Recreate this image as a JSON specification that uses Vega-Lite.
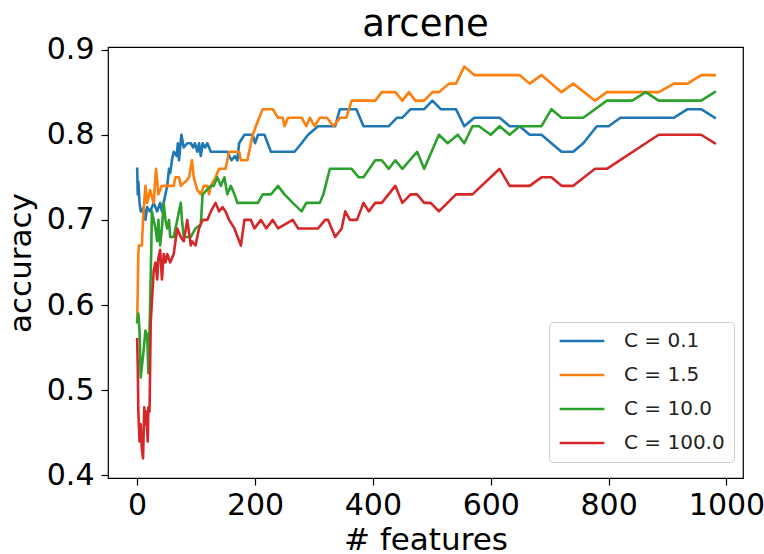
{
"$schema": "https://vega.github.io/schema/vega-lite/v6.json",
"width": 635, "height": 431,
"autosize": {"type": "none"},
"padding": {"left": 108, "top": 47, "right": 21, "bottom": 76},
"background": "white",
"title": {"text": "arcene", "fontSize": 37, "font": "DejaVu Sans", "fontWeight": "normal", "color": "black", "anchor": "middle", "offset": -9},
"config": {"view": {"stroke": "black", "strokeWidth": 1.2}, "font": "DejaVu Sans"},
"data": {"values": [
{"c":"C = 0.1","x":0,"y":0.76},{"c":"C = 0.1","x":1,"y":0.73},{"c":"C = 0.1","x":2,"y":0.745},{"c":"C = 0.1","x":4,"y":0.72},{"c":"C = 0.1","x":6,"y":0.71},{"c":"C = 0.1","x":8,"y":0.71},{"c":"C = 0.1","x":11,"y":0.715},{"c":"C = 0.1","x":14,"y":0.70},{"c":"C = 0.1","x":17,"y":0.715},{"c":"C = 0.1","x":22,"y":0.71},{"c":"C = 0.1","x":28,"y":0.72},{"c":"C = 0.1","x":34,"y":0.71},{"c":"C = 0.1","x":39,"y":0.72},{"c":"C = 0.1","x":42,"y":0.71},{"c":"C = 0.1","x":45,"y":0.72},{"c":"C = 0.1","x":51,"y":0.74},{"c":"C = 0.1","x":54,"y":0.76},{"c":"C = 0.1","x":56,"y":0.755},{"c":"C = 0.1","x":59,"y":0.77},{"c":"C = 0.1","x":62,"y":0.78},{"c":"C = 0.1","x":67,"y":0.775},{"c":"C = 0.1","x":69,"y":0.79},{"c":"C = 0.1","x":71,"y":0.77},{"c":"C = 0.1","x":75,"y":0.80},{"c":"C = 0.1","x":79,"y":0.785},{"c":"C = 0.1","x":85,"y":0.79},{"c":"C = 0.1","x":91,"y":0.79},{"c":"C = 0.1","x":95,"y":0.785},{"c":"C = 0.1","x":98,"y":0.79},{"c":"C = 0.1","x":102,"y":0.78},{"c":"C = 0.1","x":105,"y":0.79},{"c":"C = 0.1","x":108,"y":0.775},{"c":"C = 0.1","x":111,"y":0.79},{"c":"C = 0.1","x":115,"y":0.785},{"c":"C = 0.1","x":119,"y":0.79},{"c":"C = 0.1","x":125,"y":0.78},{"c":"C = 0.1","x":153,"y":0.78},{"c":"C = 0.1","x":160,"y":0.77},{"c":"C = 0.1","x":166,"y":0.775},{"c":"C = 0.1","x":170,"y":0.77},{"c":"C = 0.1","x":173,"y":0.79},{"c":"C = 0.1","x":182,"y":0.80},{"c":"C = 0.1","x":196,"y":0.80},{"c":"C = 0.1","x":200,"y":0.79},{"c":"C = 0.1","x":205,"y":0.80},{"c":"C = 0.1","x":216,"y":0.80},{"c":"C = 0.1","x":227,"y":0.78},{"c":"C = 0.1","x":267,"y":0.78},{"c":"C = 0.1","x":279,"y":0.79},{"c":"C = 0.1","x":290,"y":0.80},{"c":"C = 0.1","x":307,"y":0.81},{"c":"C = 0.1","x":336,"y":0.81},{"c":"C = 0.1","x":344,"y":0.83},{"c":"C = 0.1","x":372,"y":0.83},{"c":"C = 0.1","x":384,"y":0.81},{"c":"C = 0.1","x":427,"y":0.81},{"c":"C = 0.1","x":441,"y":0.82},{"c":"C = 0.1","x":450,"y":0.82},{"c":"C = 0.1","x":464,"y":0.83},{"c":"C = 0.1","x":487,"y":0.83},{"c":"C = 0.1","x":501,"y":0.84},{"c":"C = 0.1","x":515,"y":0.83},{"c":"C = 0.1","x":541,"y":0.83},{"c":"C = 0.1","x":555,"y":0.81},{"c":"C = 0.1","x":572,"y":0.82},{"c":"C = 0.1","x":615,"y":0.82},{"c":"C = 0.1","x":632,"y":0.81},{"c":"C = 0.1","x":649,"y":0.81},{"c":"C = 0.1","x":666,"y":0.80},{"c":"C = 0.1","x":686,"y":0.80},{"c":"C = 0.1","x":720,"y":0.78},{"c":"C = 0.1","x":740,"y":0.78},{"c":"C = 0.1","x":757,"y":0.79},{"c":"C = 0.1","x":780,"y":0.81},{"c":"C = 0.1","x":800,"y":0.81},{"c":"C = 0.1","x":820,"y":0.82},{"c":"C = 0.1","x":911,"y":0.82},{"c":"C = 0.1","x":934,"y":0.83},{"c":"C = 0.1","x":957,"y":0.83},{"c":"C = 0.1","x":980,"y":0.82},
{"c":"C = 1.5","x":0,"y":0.58},{"c":"C = 1.5","x":1,"y":0.62},{"c":"C = 1.5","x":2,"y":0.66},{"c":"C = 1.5","x":3,"y":0.67},{"c":"C = 1.5","x":8,"y":0.67},{"c":"C = 1.5","x":10,"y":0.70},{"c":"C = 1.5","x":12,"y":0.72},{"c":"C = 1.5","x":14,"y":0.74},{"c":"C = 1.5","x":17,"y":0.72},{"c":"C = 1.5","x":22,"y":0.735},{"c":"C = 1.5","x":28,"y":0.72},{"c":"C = 1.5","x":32,"y":0.76},{"c":"C = 1.5","x":36,"y":0.73},{"c":"C = 1.5","x":42,"y":0.74},{"c":"C = 1.5","x":62,"y":0.74},{"c":"C = 1.5","x":65,"y":0.75},{"c":"C = 1.5","x":71,"y":0.75},{"c":"C = 1.5","x":74,"y":0.74},{"c":"C = 1.5","x":82,"y":0.745},{"c":"C = 1.5","x":88,"y":0.75},{"c":"C = 1.5","x":93,"y":0.77},{"c":"C = 1.5","x":96,"y":0.75},{"c":"C = 1.5","x":102,"y":0.735},{"c":"C = 1.5","x":108,"y":0.73},{"c":"C = 1.5","x":113,"y":0.74},{"c":"C = 1.5","x":119,"y":0.74},{"c":"C = 1.5","x":122,"y":0.73},{"c":"C = 1.5","x":125,"y":0.74},{"c":"C = 1.5","x":133,"y":0.75},{"c":"C = 1.5","x":139,"y":0.76},{"c":"C = 1.5","x":150,"y":0.76},{"c":"C = 1.5","x":156,"y":0.78},{"c":"C = 1.5","x":173,"y":0.78},{"c":"C = 1.5","x":176,"y":0.77},{"c":"C = 1.5","x":187,"y":0.77},{"c":"C = 1.5","x":196,"y":0.80},{"c":"C = 1.5","x":207,"y":0.82},{"c":"C = 1.5","x":213,"y":0.83},{"c":"C = 1.5","x":230,"y":0.83},{"c":"C = 1.5","x":239,"y":0.82},{"c":"C = 1.5","x":247,"y":0.82},{"c":"C = 1.5","x":250,"y":0.81},{"c":"C = 1.5","x":256,"y":0.82},{"c":"C = 1.5","x":279,"y":0.82},{"c":"C = 1.5","x":287,"y":0.81},{"c":"C = 1.5","x":293,"y":0.82},{"c":"C = 1.5","x":301,"y":0.81},{"c":"C = 1.5","x":310,"y":0.82},{"c":"C = 1.5","x":322,"y":0.82},{"c":"C = 1.5","x":333,"y":0.81},{"c":"C = 1.5","x":344,"y":0.82},{"c":"C = 1.5","x":355,"y":0.82},{"c":"C = 1.5","x":364,"y":0.84},{"c":"C = 1.5","x":404,"y":0.84},{"c":"C = 1.5","x":415,"y":0.85},{"c":"C = 1.5","x":438,"y":0.85},{"c":"C = 1.5","x":450,"y":0.84},{"c":"C = 1.5","x":461,"y":0.85},{"c":"C = 1.5","x":472,"y":0.84},{"c":"C = 1.5","x":487,"y":0.84},{"c":"C = 1.5","x":501,"y":0.85},{"c":"C = 1.5","x":512,"y":0.85},{"c":"C = 1.5","x":529,"y":0.86},{"c":"C = 1.5","x":541,"y":0.86},{"c":"C = 1.5","x":555,"y":0.88},{"c":"C = 1.5","x":572,"y":0.87},{"c":"C = 1.5","x":649,"y":0.87},{"c":"C = 1.5","x":666,"y":0.86},{"c":"C = 1.5","x":686,"y":0.87},{"c":"C = 1.5","x":720,"y":0.85},{"c":"C = 1.5","x":740,"y":0.86},{"c":"C = 1.5","x":777,"y":0.84},{"c":"C = 1.5","x":797,"y":0.85},{"c":"C = 1.5","x":885,"y":0.85},{"c":"C = 1.5","x":911,"y":0.86},{"c":"C = 1.5","x":934,"y":0.86},{"c":"C = 1.5","x":957,"y":0.87},{"c":"C = 1.5","x":980,"y":0.87},
{"c":"C = 10.0","x":0,"y":0.58},{"c":"C = 10.0","x":2,"y":0.59},{"c":"C = 10.0","x":4,"y":0.57},{"c":"C = 10.0","x":6,"y":0.515},{"c":"C = 10.0","x":11,"y":0.547},{"c":"C = 10.0","x":14,"y":0.57},{"c":"C = 10.0","x":17,"y":0.565},{"c":"C = 10.0","x":19,"y":0.52},{"c":"C = 10.0","x":22,"y":0.60},{"c":"C = 10.0","x":24,"y":0.67},{"c":"C = 10.0","x":25,"y":0.71},{"c":"C = 10.0","x":28,"y":0.70},{"c":"C = 10.0","x":31,"y":0.69},{"c":"C = 10.0","x":34,"y":0.675},{"c":"C = 10.0","x":36,"y":0.70},{"c":"C = 10.0","x":39,"y":0.67},{"c":"C = 10.0","x":42,"y":0.69},{"c":"C = 10.0","x":45,"y":0.72},{"c":"C = 10.0","x":48,"y":0.70},{"c":"C = 10.0","x":51,"y":0.69},{"c":"C = 10.0","x":54,"y":0.70},{"c":"C = 10.0","x":56,"y":0.68},{"c":"C = 10.0","x":62,"y":0.68},{"c":"C = 10.0","x":68,"y":0.70},{"c":"C = 10.0","x":74,"y":0.72},{"c":"C = 10.0","x":76,"y":0.70},{"c":"C = 10.0","x":79,"y":0.68},{"c":"C = 10.0","x":91,"y":0.68},{"c":"C = 10.0","x":99,"y":0.69},{"c":"C = 10.0","x":108,"y":0.695},{"c":"C = 10.0","x":111,"y":0.73},{"c":"C = 10.0","x":125,"y":0.74},{"c":"C = 10.0","x":130,"y":0.74},{"c":"C = 10.0","x":136,"y":0.75},{"c":"C = 10.0","x":142,"y":0.74},{"c":"C = 10.0","x":148,"y":0.75},{"c":"C = 10.0","x":153,"y":0.73},{"c":"C = 10.0","x":159,"y":0.74},{"c":"C = 10.0","x":165,"y":0.73},{"c":"C = 10.0","x":170,"y":0.72},{"c":"C = 10.0","x":205,"y":0.72},{"c":"C = 10.0","x":213,"y":0.73},{"c":"C = 10.0","x":227,"y":0.73},{"c":"C = 10.0","x":239,"y":0.74},{"c":"C = 10.0","x":250,"y":0.73},{"c":"C = 10.0","x":264,"y":0.72},{"c":"C = 10.0","x":279,"y":0.71},{"c":"C = 10.0","x":287,"y":0.72},{"c":"C = 10.0","x":310,"y":0.72},{"c":"C = 10.0","x":316,"y":0.73},{"c":"C = 10.0","x":327,"y":0.76},{"c":"C = 10.0","x":364,"y":0.76},{"c":"C = 10.0","x":376,"y":0.75},{"c":"C = 10.0","x":384,"y":0.75},{"c":"C = 10.0","x":404,"y":0.77},{"c":"C = 10.0","x":415,"y":0.77},{"c":"C = 10.0","x":427,"y":0.76},{"c":"C = 10.0","x":438,"y":0.77},{"c":"C = 10.0","x":450,"y":0.76},{"c":"C = 10.0","x":475,"y":0.78},{"c":"C = 10.0","x":487,"y":0.76},{"c":"C = 10.0","x":512,"y":0.80},{"c":"C = 10.0","x":527,"y":0.79},{"c":"C = 10.0","x":544,"y":0.80},{"c":"C = 10.0","x":555,"y":0.79},{"c":"C = 10.0","x":569,"y":0.81},{"c":"C = 10.0","x":580,"y":0.81},{"c":"C = 10.0","x":600,"y":0.80},{"c":"C = 10.0","x":615,"y":0.81},{"c":"C = 10.0","x":632,"y":0.80},{"c":"C = 10.0","x":649,"y":0.81},{"c":"C = 10.0","x":686,"y":0.81},{"c":"C = 10.0","x":703,"y":0.83},{"c":"C = 10.0","x":720,"y":0.82},{"c":"C = 10.0","x":757,"y":0.82},{"c":"C = 10.0","x":797,"y":0.84},{"c":"C = 10.0","x":840,"y":0.84},{"c":"C = 10.0","x":863,"y":0.85},{"c":"C = 10.0","x":885,"y":0.84},{"c":"C = 10.0","x":957,"y":0.84},{"c":"C = 10.0","x":980,"y":0.85},
{"c":"C = 100.0","x":0,"y":0.56},{"c":"C = 100.0","x":1,"y":0.527},{"c":"C = 100.0","x":2,"y":0.475},{"c":"C = 100.0","x":4,"y":0.44},{"c":"C = 100.0","x":6,"y":0.46},{"c":"C = 100.0","x":8,"y":0.43},{"c":"C = 100.0","x":10,"y":0.42},{"c":"C = 100.0","x":12,"y":0.48},{"c":"C = 100.0","x":14,"y":0.46},{"c":"C = 100.0","x":15,"y":0.475},{"c":"C = 100.0","x":18,"y":0.44},{"c":"C = 100.0","x":19,"y":0.48},{"c":"C = 100.0","x":21,"y":0.475},{"c":"C = 100.0","x":23,"y":0.58},{"c":"C = 100.0","x":28,"y":0.64},{"c":"C = 100.0","x":31,"y":0.65},{"c":"C = 100.0","x":34,"y":0.63},{"c":"C = 100.0","x":36,"y":0.655},{"c":"C = 100.0","x":39,"y":0.665},{"c":"C = 100.0","x":42,"y":0.63},{"c":"C = 100.0","x":45,"y":0.66},{"c":"C = 100.0","x":48,"y":0.65},{"c":"C = 100.0","x":51,"y":0.66},{"c":"C = 100.0","x":56,"y":0.65},{"c":"C = 100.0","x":62,"y":0.66},{"c":"C = 100.0","x":68,"y":0.69},{"c":"C = 100.0","x":74,"y":0.68},{"c":"C = 100.0","x":79,"y":0.675},{"c":"C = 100.0","x":85,"y":0.70},{"c":"C = 100.0","x":91,"y":0.67},{"c":"C = 100.0","x":93,"y":0.675},{"c":"C = 100.0","x":99,"y":0.67},{"c":"C = 100.0","x":105,"y":0.69},{"c":"C = 100.0","x":111,"y":0.70},{"c":"C = 100.0","x":119,"y":0.70},{"c":"C = 100.0","x":125,"y":0.71},{"c":"C = 100.0","x":133,"y":0.72},{"c":"C = 100.0","x":139,"y":0.71},{"c":"C = 100.0","x":145,"y":0.715},{"c":"C = 100.0","x":150,"y":0.71},{"c":"C = 100.0","x":156,"y":0.70},{"c":"C = 100.0","x":165,"y":0.69},{"c":"C = 100.0","x":176,"y":0.67},{"c":"C = 100.0","x":182,"y":0.70},{"c":"C = 100.0","x":193,"y":0.70},{"c":"C = 100.0","x":199,"y":0.69},{"c":"C = 100.0","x":210,"y":0.70},{"c":"C = 100.0","x":219,"y":0.69},{"c":"C = 100.0","x":230,"y":0.70},{"c":"C = 100.0","x":239,"y":0.69},{"c":"C = 100.0","x":264,"y":0.70},{"c":"C = 100.0","x":273,"y":0.69},{"c":"C = 100.0","x":307,"y":0.69},{"c":"C = 100.0","x":319,"y":0.70},{"c":"C = 100.0","x":324,"y":0.70},{"c":"C = 100.0","x":336,"y":0.68},{"c":"C = 100.0","x":347,"y":0.69},{"c":"C = 100.0","x":353,"y":0.71},{"c":"C = 100.0","x":361,"y":0.70},{"c":"C = 100.0","x":373,"y":0.70},{"c":"C = 100.0","x":384,"y":0.72},{"c":"C = 100.0","x":393,"y":0.71},{"c":"C = 100.0","x":404,"y":0.72},{"c":"C = 100.0","x":415,"y":0.72},{"c":"C = 100.0","x":438,"y":0.74},{"c":"C = 100.0","x":450,"y":0.72},{"c":"C = 100.0","x":464,"y":0.73},{"c":"C = 100.0","x":475,"y":0.73},{"c":"C = 100.0","x":487,"y":0.72},{"c":"C = 100.0","x":498,"y":0.72},{"c":"C = 100.0","x":512,"y":0.71},{"c":"C = 100.0","x":541,"y":0.73},{"c":"C = 100.0","x":569,"y":0.73},{"c":"C = 100.0","x":615,"y":0.76},{"c":"C = 100.0","x":632,"y":0.74},{"c":"C = 100.0","x":666,"y":0.74},{"c":"C = 100.0","x":686,"y":0.75},{"c":"C = 100.0","x":703,"y":0.75},{"c":"C = 100.0","x":720,"y":0.74},{"c":"C = 100.0","x":740,"y":0.74},{"c":"C = 100.0","x":777,"y":0.76},{"c":"C = 100.0","x":797,"y":0.76},{"c":"C = 100.0","x":885,"y":0.80},{"c":"C = 100.0","x":957,"y":0.80},{"c":"C = 100.0","x":980,"y":0.79}
]},
"mark": {"type": "line", "strokeWidth": 2.6, "strokeJoin": "round", "strokeCap": "square"},
"encoding": {
"x": {"field": "x", "type": "quantitative", "scale": {"domain": [-49.5, 1028], "nice": false, "zero": false},
"axis": {"values": [0,200,400,600,800,1000], "format": "d", "grid": false, "domain": false, "tickColor": "black", "tickSize": 7, "tickWidth": 1.2, "labelFontSize": 30, "labelColor": "black", "labelPadding": 5, "labelFont": "DejaVu Sans", "title": "# features", "titleFontSize": 31, "titleFontWeight": "normal", "titleColor": "black", "titleFont": "DejaVu Sans", "titlePadding": 5, "labelFlush": false, "labelOverlap": false}},
"y": {"field": "y", "type": "quantitative", "scale": {"domain": [0.397, 0.903], "nice": false, "zero": false},
"axis": {"values": [0.4,0.5,0.6,0.7,0.8,0.9], "format": ".1f", "grid": false, "domain": false, "tickColor": "black", "tickSize": 7, "tickWidth": 1.2, "labelFontSize": 30, "labelColor": "black", "labelPadding": 7, "labelFont": "DejaVu Sans", "title": "accuracy", "titleFontSize": 31, "titleFontWeight": "normal", "titleColor": "black", "titleFont": "DejaVu Sans", "titlePadding": 9, "labelFlush": false}},
"color": {"field": "c", "type": "nominal", "scale": {"domain": ["C = 0.1","C = 1.5","C = 10.0","C = 100.0"], "range": ["#1f77b4","#ff7f0e","#2ca02c","#d62728"]},
"legend": {"title": null, "orient": "none", "legendX": 441, "legendY": 275, "fillColor": "white", "strokeColor": "#cccccc", "cornerRadius": 4, "padding": 9, "symbolType": "stroke", "symbolSize": 2000, "symbolStrokeWidth": 2.6, "labelFontSize": 20, "labelFont": "DejaVu Sans", "labelColor": "#222222", "labelOffset": 18, "clipHeight": 20, "rowPadding": 14}}
}
}
